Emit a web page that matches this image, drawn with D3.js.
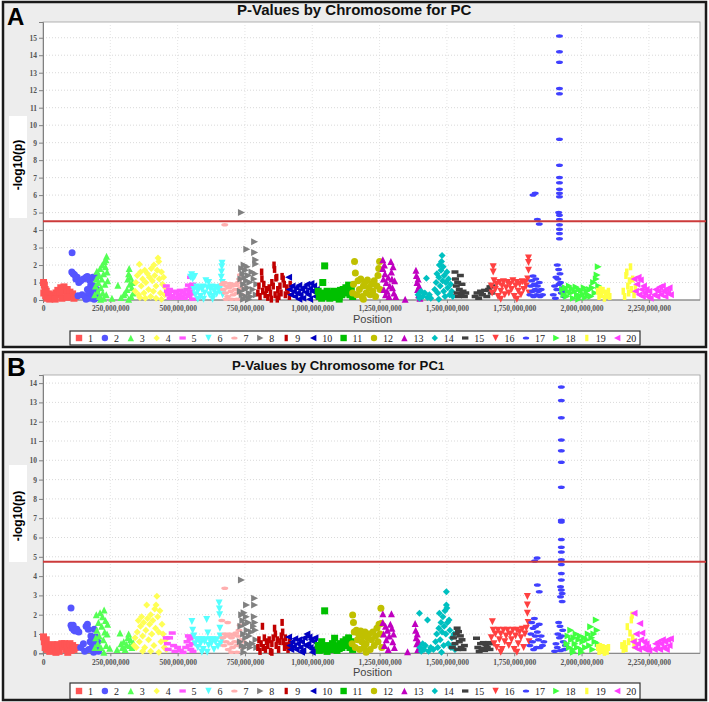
<!DOCTYPE html>
<html><head><meta charset="utf-8">
<script src="https://cdn.jsdelivr.net/npm/d3@7"></script>
<style>body{margin:0;background:#fff}svg{display:block}</style>
</head><body><svg id="c" width="709" height="702"></svg>
<script>
// ---------------- DATA ----------------
const chromosomes = [1,2,3,4,5,6,7,8,9,10,11,12,13,14,15,16,17,18,19,20];
const chrColors = ["#FF5555","#5555FF","#55FF55","#FFFF55","#FF55FF","#55FFFF","#FFAFAF","#808080","#C00000","#0000C0",
                   "#00C000","#C0C000","#C000C0","#00C0C0","#404040","#FF4040","#4040FF","#40FF40","#FFFF40","#FF40FF"];
const chrShapes = ["square","circle","up","diamond","hrect","down","hellipse","right","vrect","left",
                   "square","circle","up","diamond","hrect","down","hellipse","right","vrect","left"];
const xTickValues = [0,250000000,500000000,750000000,1000000000,1250000000,1500000000,1750000000,2000000000,2250000000];
const yTicksA = [0,1,2,3,4,5,6,7,8,9,10,11,12,13,14,15];
const yTicksB = [0,1,2,3,4,5,6,7,8,9,10,11,12,13,14];
const thresholdA = 4.5;
const thresholdB = 4.75;
const titleA = "P-Values by Chromosome for PC";
const titleB = "P-Values by Chromosome for PC";
const titleBSub = "1";

// Panel A: [position (Mb), -log10(p)]
const A1 = [[2,1.0],[5,0.85],[8,0.6],[3,0.4],[10,0.25],[15,0.1],[20,0.35],[28,0.2],[35,0.3],[40,0.15],[48,0.4],[55,0.55],[60,0.3],[66,0.7],[72,0.65],[78,0.75],[85,0.5],[90,0.6],[95,0.3],[100,0.45],[105,0.2],[110,0.35],[115,0.1],[120,0.2],[25,0.05],[70,0.1],[45,0.05],[88,0.15],[12,0.5],[62,0.45]];
const A2 = [[108,2.7],[107,1.6],[112,1.5],[117,1.45],[122,1.2],[127,1.3],[133,1.0],[140,1.1],[150,1.2],[160,1.3],[165,1.35],[172,1.15],[178,0.9],[185,1.3],[195,1.25],[200,1.4],[145,0.3],[155,0.2],[165,0.6],[170,0.4],[175,0.7],[180,0.2],[185,0.55],[190,0.8],[195,0.3],[200,0.6],[205,0.15],[190,0.05],[175,0.1],[160,0.05],[130,0.25]];
const A3 = [[192,0.3],[195,0.8],[198,1.2],[200,1.65],[203,0.5],[205,1.0],[208,1.4],[210,0.2],[212,1.8],[215,0.7],[218,1.2],[220,2.0],[222,0.4],[225,1.5],[228,2.2],[230,0.9],[232,1.9],[234,2.3],[236,2.5],[238,1.6],[235,0.3],[240,1.1],[225,0.1],[214,0.05],[256,0.1],[278,0.85],[290,0.15],[300,0.3],[305,0.4],[312,0.6],[315,1.2],[318,1.5],[320,1.8],[322,0.9],[325,1.3],[328,0.2],[330,0.7],[332,1.0],[335,0.4],[318,0.05]];
const A4 = [[342,0.5],[345,1.0],[350,1.4],[355,0.3],[358,2.05],[362,1.6],[365,0.8],[370,1.2],[375,0.4],[378,1.7],[382,1.0],[388,1.5],[392,0.6],[395,1.3],[400,0.2],[402,1.8],[406,1.1],[410,0.5],[412,2.0],[415,1.4],[420,0.8],[424,1.7],[427,2.4],[430,2.2],[432,1.2],[436,0.4],[440,1.6],[444,0.9],[448,1.3],[452,0.3],[455,0.7],[380,0.1],[420,0.1],[360,0.15],[440,0.05]];
const A5 = [[458,0.8],[462,0.5],[466,0.3],[470,0.6],[472,0.1],[478,0.25],[485,0.5],[490,0.15],[495,0.4],[500,0.1],[505,0.3],[510,0.55],[515,0.2],[520,0.45],[525,0.1],[530,0.3],[535,0.6],[540,0.85],[542,0.2],[545,0.5],[548,1.3],[550,0.7],[552,0.35],[555,0.9],[555,0.05]];
const A6 = [[548,1.3],[552,1.45],[556,1.2],[560,0.6],[563,1.35],[566,0.3],[570,0.75],[575,0.5],[580,0.7],[585,0.2],[590,0.6],[595,0.75],[600,0.4],[605,1.1],[610,0.7],[615,1.0],[618,0.3],[622,0.6],[628,0.75],[632,0.2],[636,0.5],[640,0.7],[645,0.35],[650,0.7],[655,0.5],[660,0.75],[662,1.3],[663,1.6],[664,1.9],[665,2.1],[666,1.0],[667,0.3],[596,0.05],[630,0.05],[575,0.05]];
const A7 = [[675,4.3],[666,0.9],[670,0.6],[673,1.0],[678,0.4],[682,0.8],[686,0.2],[690,0.7],[694,0.95],[698,0.5],[702,0.8],[706,0.3],[710,0.9],[714,0.6],[718,0.85],[722,0.4],[726,1.0],[730,1.2],[733,1.45],[735,0.7],[738,0.3],[742,0.6],[680,0.05],[700,0.05],[720,0.05]];
const A8 = [[737,5.0],[757,2.9],[786,3.33],[786,2.72],[790,2.29],[790,2.06],[733,0.5],[735,1.2],[738,1.8],[740,0.3],[742,1.5],[745,0.9],[747,2.0],[749,1.3],[750,0.6],[752,1.7],[754,0.2],[756,1.1],[758,1.9],[760,0.7],[763,1.4],[766,0.4],[768,1.0],[772,0.2],[776,1.6],[780,0.6],[784,1.2],[788,1.5],[792,0.3],[794,0.9],[745,0.05],[765,0.05]];
const A9 = [[798,0.4],[802,0.8],[806,0.2],[812,1.6],[813,1.2],[816,0.5],[820,0.9],[825,0.3],[830,0.6],[835,0.15],[840,0.7],[845,0.4],[850,1.0],[855,0.8],[858,2.0],[860,1.75],[862,0.3],[865,1.25],[868,1.3],[872,0.6],[876,0.2],[880,0.8],[884,0.4],[888,1.35],[892,1.2],[896,0.9],[900,0.3],[905,0.7],[910,0.5],[915,0.2],[918,0.9],[848,0.05],[870,0.05]];
const A10 = [[912,1.3],[915,0.6],[920,0.3],[925,0.8],[930,0.5],[935,0.2],[940,0.7],[945,0.4],[950,0.85],[955,0.3],[960,0.6],[965,0.1],[970,0.75],[975,0.45],[980,0.9],[985,0.3],[990,0.65],[995,0.95],[1000,0.5],[1005,0.8],[1010,0.2],[1015,0.6],[1020,0.4],[1024,0.15],[950,0.05],[990,0.05]];
const A11 = [[1046,1.95],[1039,1.0],[1022,0.5],[1026,0.2],[1030,0.35],[1035,0.1],[1042,0.4],[1050,0.2],[1055,0.5],[1060,0.3],[1065,0.1],[1070,0.4],[1075,0.25],[1080,0.5],[1085,0.15],[1090,0.35],[1095,0.45],[1100,0.2],[1105,0.55],[1110,0.3],[1115,0.6],[1120,0.4],[1125,0.7],[1130,0.5],[1135,0.85],[1140,0.3],[1145,0.65],[1150,0.2],[1100,0.05]];
const A12 = [[1157,2.2],[1160,1.55],[1150,0.4],[1153,0.9],[1165,0.3],[1170,1.1],[1175,0.6],[1180,1.2],[1185,0.2],[1190,0.8],[1195,1.0],[1200,0.4],[1205,1.15],[1210,0.7],[1215,0.3],[1220,0.9],[1225,0.5],[1230,1.1],[1235,0.2],[1240,0.8],[1244,1.4],[1247,1.8],[1250,2.2],[1252,0.6],[1190,0.05]];
const A13 = [[1262,2.3],[1262,1.8],[1264,1.2],[1266,0.6],[1268,2.0],[1270,1.5],[1272,0.3],[1275,1.0],[1278,0.5],[1282,1.3],[1285,0.2],[1288,0.8],[1292,2.2],[1294,1.6],[1296,1.2],[1298,0.7],[1300,1.9],[1303,0.4],[1306,1.1],[1310,0.2],[1345,0.05],[1385,1.7],[1387,1.4],[1389,1.0],[1391,0.6],[1393,1.2],[1395,0.3],[1397,0.8],[1400,0.1]];
const A14 = [[1393,0.3],[1398,0.1],[1404,0.5],[1410,0.2],[1418,0.4],[1424,1.25],[1428,0.15],[1435,0.3],[1440,0.1],[1455,0.6],[1460,1.0],[1463,1.5],[1466,0.4],[1470,1.3],[1472,2.0],[1475,0.8],[1478,1.7],[1480,2.2],[1482,2.55],[1484,1.1],[1486,1.9],[1488,0.5],[1490,1.4],[1493,0.2],[1496,1.0],[1500,1.6],[1503,0.7],[1506,1.2],[1510,0.3],[1514,0.9],[1518,0.5],[1522,0.2],[1470,0.05]];
const A15 = [[1530,1.6],[1532,1.2],[1535,0.8],[1538,0.4],[1540,1.0],[1543,0.2],[1546,0.6],[1550,1.4],[1553,0.3],[1556,0.9],[1560,0.5],[1565,0.2],[1570,0.4],[1605,0.2],[1612,0.4],[1618,0.1],[1625,0.5],[1632,0.3],[1640,0.55],[1648,0.2],[1655,0.6],[1660,0.75],[1665,0.4],[1668,0.8]];
const A16 = [[1672,1.9],[1672,1.6],[1665,0.8],[1668,0.4],[1675,1.1],[1680,0.6],[1685,0.9],[1690,0.2],[1695,1.0],[1700,0.5],[1705,0.8],[1710,1.05],[1715,0.3],[1720,0.7],[1725,1.0],[1730,0.4],[1735,0.9],[1740,0.6],[1745,1.1],[1750,0.2],[1755,0.8],[1760,1.0],[1765,0.5],[1770,0.9],[1775,0.3],[1780,1.05],[1785,0.6],[1790,1.0],[1795,0.8],[1800,1.2],[1803,2.4],[1803,2.15],[1803,1.7],[1805,0.4],[1700,0.05],[1760,0.05]];
const A17 = [[1808,0.3],[1812,0.8],[1815,1.1],[1818,0.5],[1820,1.37],[1822,0.2],[1825,0.9],[1828,0.6],[1830,1.2],[1833,0.3],[1836,0.8],[1840,0.5],[1843,1.0],[1846,0.2],[1850,0.6],[1855,0.3],[1820,6.0],[1828,6.1],[1836,4.6],[1843,4.35],
  [1918,15.1],[1918,14.2],[1918,13.6],[1918,12.1],[1918,11.8],[1918,9.2],[1918,7.7],[1918,7.0],[1918,6.7],[1918,6.34],[1918,6.1],[1918,5.9],[1915,5.0],[1918,4.85],[1918,4.6],[1918,4.3],[1918,4.05],[1918,3.8],[1918,3.5],[1910,2.0],[1915,1.75],[1920,1.5],[1905,1.3],[1912,1.2],[1922,1.0],[1900,0.8],[1908,0.6],[1916,0.9],[1925,0.4],[1930,0.7],[1895,0.3],[1935,0.2],[1940,0.5],[1903,0.1]];
const A18 = [[1930,0.6],[1935,0.3],[1940,0.7],[1945,0.2],[1950,0.5],[1955,0.8],[1960,0.4],[1965,0.65],[1970,0.1],[1975,0.5],[1980,0.75],[1985,0.3],[1990,0.6],[1995,0.2],[2000,0.55],[2005,0.35],[2010,0.7],[2015,0.15],[2020,0.5],[2025,0.3],[2030,0.6],[2035,0.2],[2040,0.7],[2045,1.0],[2050,0.4],[2055,1.2],[2058,1.43],[2062,1.9],[2064,0.8],[1990,0.05]];
const A19 = [[2060,0.5],[2065,0.2],[2070,0.6],[2075,0.3],[2080,0.55],[2085,0.1],[2090,0.4],[2095,0.25],[2100,0.5],[2105,0.2],[2155,0.5],[2160,0.2],[2165,1.4],[2168,1.6],[2172,0.8],[2175,0.4],[2178,1.1],[2182,1.9],[2185,0.6],[2190,1.2],[2195,0.3],[2200,0.7]];
const A20 = [[2195,1.2],[2200,0.5],[2205,0.9],[2210,1.3],[2214,0.3],[2218,1.15],[2222,0.6],[2226,0.2],[2230,0.8],[2235,0.4],[2240,0.6],[2245,0.2],[2250,0.5],[2255,0.1],[2270,0.3],[2275,0.6],[2280,0.2],[2285,0.5],[2290,0.75],[2295,0.3],[2300,0.8],[2305,0.5],[2310,0.2],[2315,0.6],[2320,0.4],[2325,0.7],[2330,0.3]];

// Panel B
const B1 = [[2,0.85],[5,0.6],[8,0.3],[12,0.7],[15,0.2],[20,0.4],[25,0.1],[30,0.35],[35,0.45],[40,0.2],[45,0.4],[50,0.3],[55,0.45],[60,0.1],[65,0.4],[70,0.5],[75,0.35],[80,0.5],[85,0.2],[90,0.45],[95,0.3],[100,0.5],[105,0.15],[110,0.4],[115,0.2],[120,0.3],[48,0.05],[92,0.05]];
const B2 = [[104,2.35],[104,1.45],[108,1.3],[112,1.45],[115,1.2],[120,1.15],[126,1.25],[133,1.1],[140,0.3],[150,0.5],[160,1.4],[165,1.5],[168,1.25],[175,0.6],[178,0.9],[182,0.3],[185,0.7],[190,1.25],[193,0.5],[196,0.85],[200,0.2],[203,0.6],[206,0.1],[170,0.2],[188,0.05],[155,0.1]];
const B3 = [[193,0.3],[196,0.8],[198,2.0],[200,1.2],[203,0.5],[206,1.6],[209,0.9],[212,2.1],[215,0.3],[218,1.4],[221,1.9],[224,0.7],[227,2.25],[229,1.1],[232,1.7],[235,0.4],[238,1.0],[240,1.5],[226,0.05],[248,0.26],[275,0.2],[286,1.05],[290,0.5],[295,0.3],[300,0.6],[305,0.2],[310,0.45],[315,0.8],[318,1.0],[322,0.4],[325,0.7],[330,0.3],[335,0.55]];
const B4 = [[338,0.4],[342,0.8],[346,0.3],[350,1.1],[354,1.7],[358,0.6],[362,1.4],[366,1.9],[370,0.9],[374,1.6],[378,0.3],[382,1.2],[385,2.5],[388,1.8],[392,0.7],[396,1.5],[400,2.0],[404,1.0],[408,1.7],[412,0.4],[415,2.3],[418,1.3],[420,2.5],[423,2.95],[426,1.9],[430,1.1],[434,2.2],[438,0.6],[442,1.5],[446,1.0],[450,0.3],[455,0.7],[458,0.2],[400,0.1],[430,0.05],[370,0.1]];
const B5 = [[458,0.8],[462,0.5],[465,0.2],[470,0.8],[480,1.05],[485,0.4],[490,0.1],[500,0.3],[510,0.15],[520,0.05],[530,0.3],[535,0.6],[540,0.9],[543,0.4],[546,0.75],[549,0.2],[552,0.85],[555,0.5],[557,0.1]];
const B6 = [[553,1.65],[556,1.2],[560,0.9],[565,0.5],[570,0.7],[575,0.3],[580,0.7],[585,0.5],[590,0.7],[595,0.2],[600,0.6],[605,0.7],[608,1.75],[612,1.05],[615,0.4],[620,0.7],[625,0.5],[630,0.7],[635,0.2],[640,0.6],[645,0.7],[650,0.35],[654,2.6],[655,2.3],[656,2.0],[657,1.3],[658,0.9],[660,0.5],[664,0.7],[610,0.05],[590,0.05]];
const B7 = [[675,3.37],[664,1.7],[686,1.6],[668,0.8],[672,0.4],[676,1.0],[680,0.6],[684,0.9],[688,0.2],[692,1.0],[696,0.5],[700,0.8],[704,0.3],[708,0.95],[712,0.6],[716,1.05],[720,0.4],[724,0.9],[728,1.2],[732,1.45],[736,0.7],[740,0.3],[744,0.6],[700,0.05],[720,0.05]];
const B8 = [[737,3.8],[756,2.5],[786,2.85],[786,2.5],[733,0.6],[735,1.4],[738,2.0],[740,0.4],[742,1.7],[745,1.0],[747,2.1],[749,0.3],[751,1.5],[753,0.8],[755,1.9],[758,1.2],[760,0.5],[763,1.6],[766,0.9],[770,0.3],[774,1.1],[778,0.5],[782,1.4],[785,1.9],[787,1.6],[789,1.2],[791,0.7],[794,0.3],[746,0.05]];
const B9 = [[798,0.3],[802,0.7],[806,0.1],[810,0.5],[815,1.4],[818,0.3],[822,0.8],[826,0.2],[830,0.6],[835,0.4],[840,0.7],[845,0.1],[850,0.5],[855,0.8],[860,1.3],[863,1.0],[866,0.4],[870,0.7],[875,0.2],[880,0.6],[885,0.9],[888,1.6],[890,1.1],[893,0.6],[897,0.3],[900,0.8],[905,0.4],[910,0.2],[915,0.6],[918,0.3],[850,0.05]];
const B10 = [[912,0.85],[916,0.4],[920,0.2],[925,0.6],[930,0.35],[935,0.75],[940,0.2],[945,0.5],[950,0.7],[955,0.3],[960,0.6],[965,0.15],[970,0.8],[975,0.4],[980,1.0],[984,0.5],[988,0.85],[992,0.3],[996,0.7],[1000,0.2],[1005,0.6],[1010,0.8],[1015,0.3],[1020,0.5],[1025,0.2],[960,0.05],[1000,0.05]];
const B11 = [[1046,2.2],[1022,0.4],[1026,0.15],[1030,0.3],[1035,0.6],[1040,0.2],[1050,0.35],[1055,0.1],[1060,0.4],[1065,0.2],[1070,0.3],[1075,0.5],[1080,0.2],[1083,0.78],[1088,0.35],[1092,0.15],[1096,0.4],[1100,0.25],[1105,0.5],[1110,0.3],[1115,0.6],[1120,0.4],[1125,0.7],[1130,0.5],[1135,0.8],[1140,0.3],[1145,0.6],[1150,0.2]];
const B12 = [[1150,1.98],[1153,1.6],[1148,0.5],[1156,1.1],[1160,0.3],[1164,1.2],[1168,0.7],[1172,1.0],[1176,0.2],[1180,1.15],[1184,0.6],[1188,0.9],[1192,0.3],[1196,1.1],[1200,0.5],[1205,0.8],[1210,1.0],[1215,0.2],[1220,0.7],[1225,1.1],[1230,0.4],[1235,0.9],[1240,1.3],[1244,0.6],[1248,1.5],[1252,1.0],[1255,2.33],[1256,1.55],[1258,0.3],[1200,0.05]];
const B13 = [[1262,2.05],[1262,1.6],[1265,1.0],[1268,0.4],[1272,1.4],[1275,0.7],[1279,1.2],[1282,0.2],[1286,0.9],[1290,1.5],[1294,2.05],[1296,1.3],[1299,0.6],[1302,1.0],[1305,0.3],[1354,0.08],[1382,1.55],[1384,1.2],[1386,0.8],[1388,0.5],[1390,1.0],[1392,0.2],[1395,0.6]];
const B14 = [[1398,2.07],[1400,0.3],[1405,0.1],[1410,0.5],[1415,0.2],[1420,0.4],[1428,1.73],[1432,0.1],[1440,0.3],[1450,0.2],[1458,0.6],[1462,1.0],[1466,0.3],[1470,1.3],[1472,2.07],[1475,0.7],[1478,1.6],[1482,1.1],[1485,1.9],[1488,0.4],[1490,1.4],[1493,2.2],[1496,1.0],[1498,3.19],[1498,2.5],[1500,2.35],[1502,1.6],[1505,0.5],[1508,1.73],[1511,1.2],[1515,0.3],[1518,0.8],[1522,0.4],[1526,1.0],[1530,0.2],[1480,0.05]];
const B15 = [[1520,0.3],[1525,0.8],[1530,0.5],[1535,1.0],[1538,1.3],[1540,0.2],[1543,1.12],[1546,0.6],[1550,0.9],[1553,0.3],[1556,0.7],[1560,0.2],[1565,0.4],[1610,0.78],[1615,0.3],[1620,0.1],[1625,0.5],[1630,0.25],[1635,0.55],[1640,0.15],[1645,0.45],[1650,0.3],[1655,0.55],[1660,0.2],[1665,0.5]];
const B16 = [[1665,0.8],[1669,1.64],[1672,1.2],[1675,0.5],[1680,1.0],[1685,0.3],[1690,1.2],[1695,0.7],[1700,1.0],[1705,0.2],[1710,1.2],[1715,0.6],[1720,0.9],[1725,1.2],[1730,0.4],[1735,1.0],[1740,0.7],[1745,1.2],[1750,0.2],[1755,0.9],[1760,1.2],[1765,0.5],[1770,1.1],[1775,0.8],[1780,1.25],[1785,0.3],[1790,1.0],[1795,1.3],[1799,2.94],[1799,2.5],[1799,2.07],[1802,1.6],[1805,0.6],[1700,0.05],[1760,0.05]];
const B17 = [[1808,0.4],[1812,1.0],[1815,1.6],[1818,0.6],[1820,1.3],[1822,0.2],[1825,1.8],[1828,0.9],[1830,1.4],[1833,0.3],[1836,1.1],[1840,0.7],[1843,1.5],[1846,0.3],[1850,0.9],[1855,0.4],[1860,0.6],[1826,4.78],[1835,4.94],[1836,3.54],[1843,3.19],
  [1925,13.8],[1925,13.1],[1925,12.2],[1925,11.05],[1925,10.5],[1925,9.9],[1925,8.6],[1925,6.9],[1925,6.8],[1925,5.9],[1925,5.5],[1925,5.25],[1925,4.85],[1925,4.6],[1925,4.14],[1925,3.8],[1922,3.45],[1925,3.28],[1928,3.1],[1922,2.93],[1928,2.68],[1915,1.6],[1920,1.4],[1930,1.2],[1912,1.0],[1918,0.8],[1926,0.9],[1905,0.5],[1910,0.3],[1932,0.6],[1936,0.2],[1940,0.4],[1900,0.1],[1922,0.15]];
const B18 = [[1946,0.5],[1950,0.9],[1955,0.3],[1960,1.2],[1963,0.7],[1968,0.2],[1972,0.8],[1976,0.5],[1980,1.0],[1985,0.3],[1990,0.7],[1995,0.9],[2000,0.2],[2005,0.6],[2010,0.8],[2015,0.3],[2020,0.7],[2025,1.0],[2030,0.4],[2034,1.38],[2038,0.8],[2042,0.2],[2046,1.0],[2050,0.6],[2055,1.73],[2058,1.2],[2062,0.5],[2000,0.05],[1970,0.05]];
const B19 = [[2060,0.3],[2065,0.1],[2070,0.35],[2075,0.15],[2080,0.3],[2085,0.05],[2090,0.25],[2095,0.1],[2100,0.3],[2150,0.4],[2155,0.2],[2160,0.5],[2165,0.25],[2170,1.38],[2175,0.6],[2180,1.05],[2185,1.73],[2188,1.98],[2190,0.8],[2195,0.4],[2200,0.6]];
const B20 = [[2192,0.6],[2195,2.07],[2198,0.3],[2203,1.0],[2208,0.5],[2212,0.2],[2216,1.55],[2220,0.7],[2224,1.05],[2228,0.3],[2232,0.6],[2236,0.2],[2240,0.5],[2245,0.3],[2250,0.15],[2270,0.2],[2275,0.5],[2280,0.3],[2285,0.6],[2290,0.2],[2295,0.5],[2300,0.7],[2305,0.3],[2310,0.6],[2315,0.2],[2320,0.7],[2325,0.4],[2330,0.75]];

const seriesA = [A1,A2,A3,A4,A5,A6,A7,A8,A9,A10,A11,A12,A13,A14,A15,A16,A17,A18,A19,A20];
const seriesB = [B1,B2,B3,B4,B5,B6,B7,B8,B9,B10,B11,B12,B13,B14,B15,B16,B17,B18,B19,B20];

// ---------------- DRAW ----------------
const svg = d3.select("#c");
function shapePath(type, h) {
  const q = h / 2;
  switch (type) {
    case "square": return `M${-h},${-h}h${2*h}v${2*h}h${-2*h}Z`;
    case "circle": return `M${-h},0a${h},${h} 0 1,0 ${2*h},0a${h},${h} 0 1,0 ${-2*h},0Z`;
    case "up": return `M0,${-h}L${h},${h}L${-h},${h}Z`;
    case "diamond": return `M0,${-h}L${h},0L0,${h}L${-h},0Z`;
    case "hrect": return `M${-h},${-q}h${2*h}v${h}h${-2*h}Z`;
    case "down": return `M${-h},${-h}L${h},${-h}L0,${h}Z`;
    case "hellipse": return `M${-h},0a${h},${q} 0 1,0 ${2*h},0a${h},${q} 0 1,0 ${-2*h},0Z`;
    case "right": return `M${-h},${-h}L${h},0L${-h},${h}Z`;
    case "vrect": return `M${-q},${-h}h${h}v${2*h}h${-h}Z`;
    case "left": return `M${-h},0L${h},${-h}L${h},${h}Z`;
  }
}

function drawPanel(o) {
  const g = svg.append("g");
  g.append("rect").attr("x", 3).attr("y", o.py).attr("width", 703).attr("height", o.ph)
    .attr("fill", "#ededed").attr("stroke", "#1a1a1a").attr("stroke-width", 2.5);
  // letter
  g.append("text").attr("x", 7).attr("y", o.letterY).text(o.letter)
    .attr("font-family", "Liberation Sans, Arial, sans-serif").attr("font-weight", "bold")
    .attr("font-size", o.letterSize).attr("fill", "#000");
  // title
  const tt = g.append("text").attr("x", o.titleX).attr("y", o.titleY)
    .attr("font-family", "Liberation Sans, Arial, sans-serif").attr("font-weight", "bold")
    .attr("font-size", o.titleSize).attr("fill", "#111");
  tt.append("tspan").text(o.title);
  if (o.titleSub) tt.append("tspan").attr("font-size", o.titleSize * 0.85).text(o.titleSub);

  const x = d3.scaleLinear().domain([0, 2440000000]).range([43, 700]);
  const y = d3.scaleLinear().domain([0, o.ymax]).range([o.bottom, o.top]);

  // plot background
  g.append("rect").attr("x", 43).attr("y", o.top).attr("width", 657).attr("height", o.bottom - o.top)
    .attr("fill", "#fff").attr("stroke", "#a0a0a0").attr("stroke-width", 0.8);
  // grid
  g.append("g").selectAll("line").data(o.yTicks.filter(d => d > 0)).join("line")
    .attr("x1", 43).attr("x2", 700).attr("y1", d => y(d)).attr("y2", d => y(d))
    .attr("stroke", "#c8c8c8").attr("stroke-width", 0.7).attr("stroke-dasharray", "1,2");
  g.append("g").selectAll("line").data(xTickValues.filter(d => d > 0)).join("line")
    .attr("x1", d => x(d)).attr("x2", d => x(d)).attr("y1", o.top).attr("y2", o.bottom)
    .attr("stroke", "#d8d8d8").attr("stroke-width", 0.7).attr("stroke-dasharray", "1,2");

  // axes
  const yAxis = d3.axisLeft(y).tickValues(o.yTicks).tickSize(4).tickPadding(2).tickFormat(d3.format("d"));
  const ya = g.append("g").attr("transform", "translate(43,0)").call(yAxis);
  const xAxis = d3.axisBottom(x).tickValues(xTickValues).tickSize(3).tickPadding(3).tickFormat(d3.format(","));
  const xa = g.append("g").attr("transform", `translate(0,${o.bottom})`).call(xAxis);
  [ya, xa].forEach(a => {
    a.select(".domain").attr("stroke", "#808080").attr("stroke-width", 1);
    a.selectAll(".tick line").attr("stroke", "#808080");
    a.selectAll("text").attr("font-family", "Liberation Serif, Times New Roman, serif")
      .attr("font-size", 7.5).attr("font-weight", "bold").attr("fill", "#555");
  });
  xa.select(".domain").attr("d", `M43,0H700`);

  // points
  const plot = g.append("g");
  o.series.forEach((pts, i) => {
    plot.append("g").selectAll("path").data(pts).join("path")
      .attr("transform", d => `translate(${x(d[0] * 1e6)},${y(d[1])})`)
      .attr("d", shapePath(chrShapes[i], 3.5))
      .attr("fill", chrColors[i]);
  });

  // threshold
  g.append("line").attr("x1", 43).attr("x2", 706).attr("y1", y(o.threshold)).attr("y2", y(o.threshold))
    .attr("stroke", "#cc3b3b").attr("stroke-width", 2);

  // y label
  g.append("rect").attr("x", 9).attr("y", o.ylabBox[0]).attr("width", 18).attr("height", o.ylabBox[1])
    .attr("fill", "#fff");
  g.append("text").attr("transform", `translate(22,${o.ylabY}) rotate(-90)`).attr("text-anchor", "middle")
    .attr("font-family", "Liberation Sans, Arial, sans-serif").attr("font-weight", "bold")
    .attr("font-size", 12).attr("fill", "#000").text("-log10(p)");

  // x label
  g.append("text").attr("x", 353).attr("y", o.posY)
    .attr("font-family", "Liberation Sans, Arial, sans-serif").attr("font-size", 11).attr("fill", "#444")
    .text("Position");

  // legend
  const lg = g.append("g");
  lg.append("rect").attr("x", 70).attr("y", o.legY).attr("width", 570).attr("height", o.legH)
    .attr("fill", "#fff").attr("stroke", "#333").attr("stroke-width", 1.2);
  const cy = o.legY + o.legH / 2;
  let sx = 79;
  chromosomes.forEach((c, i) => {
    lg.append("path").attr("transform", `translate(${sx},${cy})`).attr("d", shapePath(chrShapes[i], 3.2))
      .attr("fill", chrColors[i]);
    lg.append("text").attr("x", sx + 9).attr("y", cy + 3.5)
      .attr("font-family", "Liberation Serif, Times New Roman, serif").attr("font-size", 10)
      .attr("fill", "#222").text(c);
    sx += c < 9 ? 25.9 : (c === 9 ? 27 : 30.4);
  });
}

drawPanel({py: 2, ph: 345, letter: "A", letterY: 25, letterSize: 24,
  title: titleA, titleX: 237, titleY: 15, titleSize: 15,
  top: 22, bottom: 300, ymax: 15.9, yTicks: yTicksA, series: seriesA, threshold: thresholdA,
  ylabBox: [116, 102], ylabY: 165, posY: 323, legY: 331, legH: 14});
drawPanel({py: 352, ph: 348, letter: "B", letterY: 376, letterSize: 26,
  title: titleB, titleSub: titleBSub, titleX: 232, titleY: 370, titleSize: 13.2,
  top: 375, bottom: 653.3, ymax: 14.42, yTicks: yTicksB, series: seriesB, threshold: thresholdB,
  ylabBox: [465, 97], ylabY: 516, posY: 676, legY: 683, legH: 16});
</script></body></html>
